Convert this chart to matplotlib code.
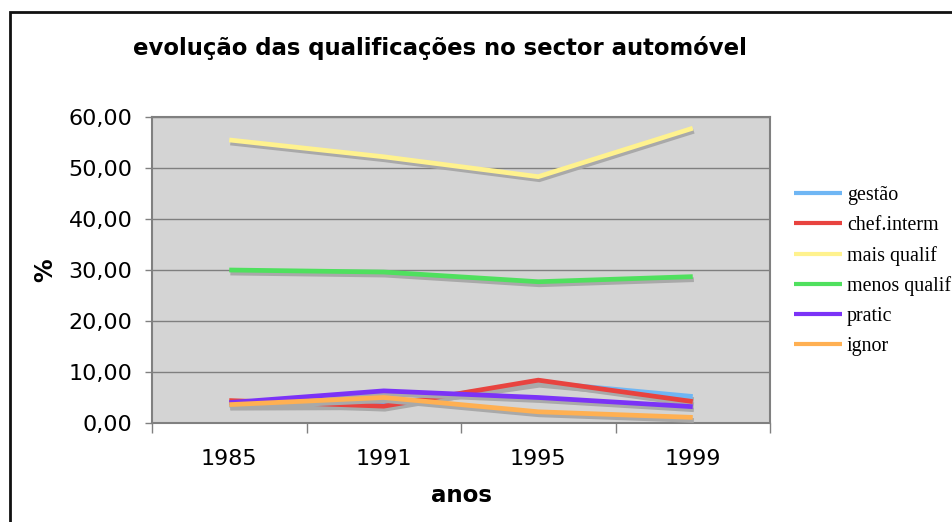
import matplotlib
matplotlib.use('Agg')
import matplotlib.pyplot as plt
import matplotlib.patheffects as pe
from matplotlib.patches import Rectangle
from matplotlib.ticker import FixedLocator, FuncFormatter
import numpy as np

years = ['1985', '1991', '1995', '1999']
gestao = [3.5, 3.6, 8.0, 5.2]
chef_interm = [4.4, 3.3, 8.4, 4.2]
mais_qualif = [55.5, 52.2, 48.3, 57.8]
menos_qualif = [30.0, 29.6, 27.7, 28.7]
pratic = [4.0, 6.3, 5.0, 3.2]
ignor = [3.6, 5.0, 2.2, 1.1]

series = [
    ('gestão', gestao, '#6fb6f4'),
    ('chef.interm', chef_interm, '#e8433f'),
    ('mais qualif', mais_qualif, '#fff28e'),
    ('menos qualif', menos_qualif, '#4fe05e'),
    ('pratic', pratic, '#7b33f7'),
    ('ignor', ignor, '#ffb052'),
]

fig = plt.figure(figsize=(9.52, 5.22), dpi=100)
ax = fig.add_axes([152 / 952, 1 - 423 / 522, 618 / 952, 306 / 522])
ax.set_facecolor('#d4d4d4')

x = np.arange(len(years))
shadow = [pe.SimpleLineShadow(offset=(0.8, -2.2), shadow_color='#a9a9a9', alpha=1.0), pe.Normal()]
for name, vals, color in series:
    ax.plot(x, vals, color=color, lw=3.4, label=name, solid_capstyle='butt',
            solid_joinstyle='miter', path_effects=shadow, zorder=3)

ax.set_xlim(-0.5, 3.5)
ax.set_ylim(0, 60)
ax.set_yticks(np.arange(0, 61, 10))
ax.yaxis.set_major_formatter(FuncFormatter(lambda v, p: f'{v:.2f}'.replace('.', ',')))
ax.set_xticks(x)
ax.set_xticklabels(years)
ax.xaxis.set_minor_locator(FixedLocator(np.arange(-0.5, 3.6, 1)))
ax.grid(axis='y', color='#7f7f7f', lw=1.0, zorder=1)
ax.set_axisbelow(True)

for s in ax.spines.values():
    s.set_color('#808080')
    s.set_linewidth(1.5)

ax.tick_params(axis='y', which='major', length=5, width=1, color='#808080', pad=9,
               labelsize=16, labelcolor='black')
ax.tick_params(axis='x', which='major', length=0, pad=18.5, labelsize=16)
ax.tick_params(axis='x', which='minor', length=7, width=1, color='#808080')

ax.set_ylabel('%', fontsize=17, fontweight='bold', labelpad=8)
ax.set_xlabel('anos', fontsize=16.5, fontweight='bold', labelpad=11)

fig.text(440 / 952, 1 - 48 / 522, 'evolução das qualificações no sector automóvel',
         ha='center', va='center', fontsize=16.4, fontweight='bold')

leg = ax.legend(loc='center left', bbox_to_anchor=(794 / 952, 1 - 271 / 522),
                bbox_transform=fig.transFigure, frameon=False, borderpad=0,
                borderaxespad=0, handlelength=2.4, handletextpad=0.25,
                labelspacing=0.55, prop={'family': 'Liberation Serif', 'size': 14.4})
for line in leg.get_lines():
    line.set_path_effects([])
    line.set_linewidth(3.0)

fig.patches.append(Rectangle((10 / 952, -0.1), 1.2, 1 - 12 / 522 + 0.1,
                             transform=fig.transFigure, fill=False,
                             edgecolor='#111111', lw=2.0))

fig.savefig('out.png', dpi=100)
